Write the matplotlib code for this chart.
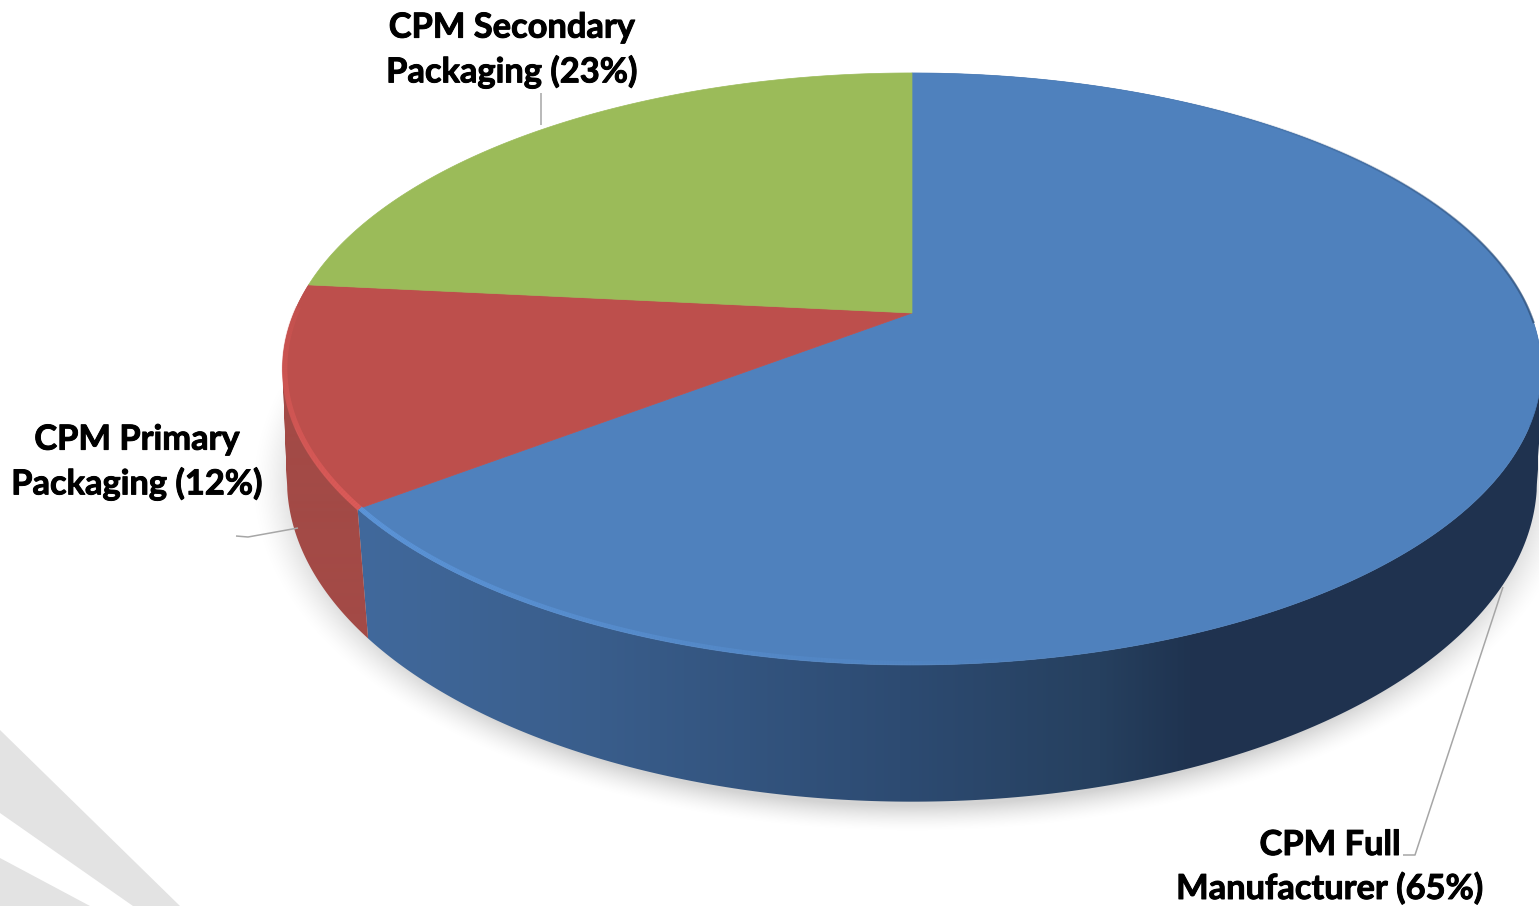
import numpy as np
import matplotlib
matplotlib.use('Agg')
import matplotlib.pyplot as plt
import matplotlib.patheffects as pe
from matplotlib.collections import LineCollection
from matplotlib.patches import PathPatch
from matplotlib.path import Path
from matplotlib.colors import to_rgb

# Datos de la grafica
names = ['CPM Full\nManufacturer', 'CPM Primary\nPackaging', 'CPM Secondary\nPackaging']
shares = [64.6, 12.0, 23.4]
face_colors = ['#4f81bd', '#bd4f4c', '#9bbb59']
label_pos = [(1330, 867), (137, 462), (512, 50)]

# Triangulos grises del fondo
bg_shapes = [[(0, 730), (180, 906), (133, 906), (0, 813)],
             [(0, 858), (90, 906), (0, 906)]]

# Lineas guia de las etiquetas
leaders = [[(1403, 855), (1415, 855), (1503, 587)],
           [(236, 536), (248, 537), (298, 528)],
           [(541, 93), (541, 125)]]

# Perspectiva del disco: centro, radios y deformacion
cx = 912
top_rim = dict(cy=313, R=618, S=285.4, k=0.189)
bot_rim = dict(cy=427, R=616.5, S=313.0, k=0.1646)


def rim(t, cy, R, S, k, scale=1.0):
    # t en radianes, medido desde arriba en sentido horario
    x, y = np.sin(t) * scale, np.cos(t) * scale
    d = 1 + k * y
    return cx + R * x / d, cy - S * y / d


def strip_path(t0, t1, n=400):
    # Forma del costado: tiras entre el borde de arriba y el de abajo,
    # todas con la misma orientacion para que el recorte no deje huecos
    ts = np.linspace(t0, t1, n)
    xt, yt = rim(ts, **top_rim)
    xb, yb = rim(ts, **bot_rim)
    paths = []
    for j in range(n - 1):
        q = np.array([(xt[j], yt[j]), (xt[j + 1], yt[j + 1]), (xb[j + 1], yb[j + 1]), (xb[j], yb[j])])
        area = np.sum(q[:, 0] * np.roll(q[:, 1], -1) - np.roll(q[:, 0], -1) * q[:, 1])
        if area < 0:
            q = q[::-1]
        paths.append(Path(np.vstack([q, q[0]]), closed=True))
    return Path.make_compound_path(*paths)


fig = plt.figure(figsize=(15.39, 9.06), dpi=100)
ax = fig.add_axes([0, 0, 1, 1])
ax.set_xlim(0, 1539)
ax.set_ylim(906, 0)
ax.axis('off')

for shape in bg_shapes:
    ax.fill(*zip(*shape), color='#e3e3e3', lw=0, zorder=1)

# Sombra suave debajo del disco
gx, gy = np.meshgrid(np.arange(0, 1539), np.arange(0, 906))
f = np.sqrt(((gx - 912) / 660.0) ** 2 + ((gy - 484) / 347.0) ** 2)
alpha = np.clip((1.0 - f) / 0.075, 0, 1) ** 1.5
shadow = np.zeros(gx.shape + (4,))
shadow[..., :3] = 0.72
shadow[..., 3] = alpha * 0.6
ax.imshow(shadow, extent=(0, 1539, 906, 0), aspect='auto', zorder=2, interpolation='bilinear')

# Limites de cada rebanada
edges = np.cumsum([0] + shares) / sum(shares) * 2 * np.pi

# Costado: degradado en x recortado con la forma de cada rebanada
grad_x = [360, 600, 900, 1100, 1190, 1539]
blue_stops = np.array([to_rgb(c) for c in ['#41699c', '#395d8b', '#2d4b72', '#26405f', '#1f3350', '#20324f']])
red_stops = np.tile(to_rgb('#a34a46'), (6, 1))
xs_img = np.arange(0, 1539)
for i, stops in enumerate([blue_stops, red_stops]):
    shape = PathPatch(strip_path(edges[i], edges[i + 1]), fc='none', ec='none', transform=ax.transData)
    ax.add_patch(shape)
    img = np.stack([np.interp(xs_img, grad_x, stops[:, c]) for c in range(3)], axis=-1)[None, :, :]
    im = ax.imshow(img, extent=(0, 1539, 906, 0), aspect='auto', zorder=3, interpolation='bilinear')
    im.set_clip_path(shape)

# Cara superior
for i, col in enumerate(face_colors):
    ts = np.linspace(edges[i], edges[i + 1], 500)
    xt, yt = rim(ts, **top_rim)
    ax.fill(np.r_[cx, xt], np.r_[top_rim['cy'], yt], color=col, lw=0.5, zorder=4)


def band(t0, t1, color, a0, a1, lw, scale):
    # Brillo u orilla sobre el borde de la cara, con alfa variable
    ts = np.linspace(t0, t1, 300)
    xs, ys = rim(ts, scale=scale, **top_rim)
    pts = np.column_stack([xs, ys])
    segs = np.stack([pts[:-1], pts[1:]], axis=1)
    rgba = np.tile(to_rgb(color) + (1.0,), (len(segs), 1))
    rgba[:, 3] = np.linspace(a0, a1, len(segs))
    ax.add_collection(LineCollection(segs, colors=rgba, linewidths=lw, zorder=5, capstyle='butt'))


# Brillo del frente
band(edges[1], np.radians(170), '#5f9ae0', 0.8, 0.0, 3.4, 0.996)
band(edges[1], edges[2] - 0.08, '#e05c5a', 1.0, 0.2, 4.0, 0.997)
# Orilla oscura a la derecha
band(np.radians(30), np.radians(92), '#2f4f78', 0.0, 0.8, 1.6, 1.0)

for line in leaders:
    ax.plot(*zip(*line), color='#a6a6a6', lw=1.1, zorder=6, solid_capstyle='butt')

for name, share, pos in zip(names, shares, label_pos):
    ax.text(pos[0], pos[1], f'{name} ({share:.0f}%)', ha='center', va='center', family='Lato',
            fontweight='bold', fontsize=24.8, linespacing=1.43, color='black', zorder=7,
            path_effects=[pe.withStroke(linewidth=0.7, foreground='black')])

fig.savefig('out.png', dpi=100)
